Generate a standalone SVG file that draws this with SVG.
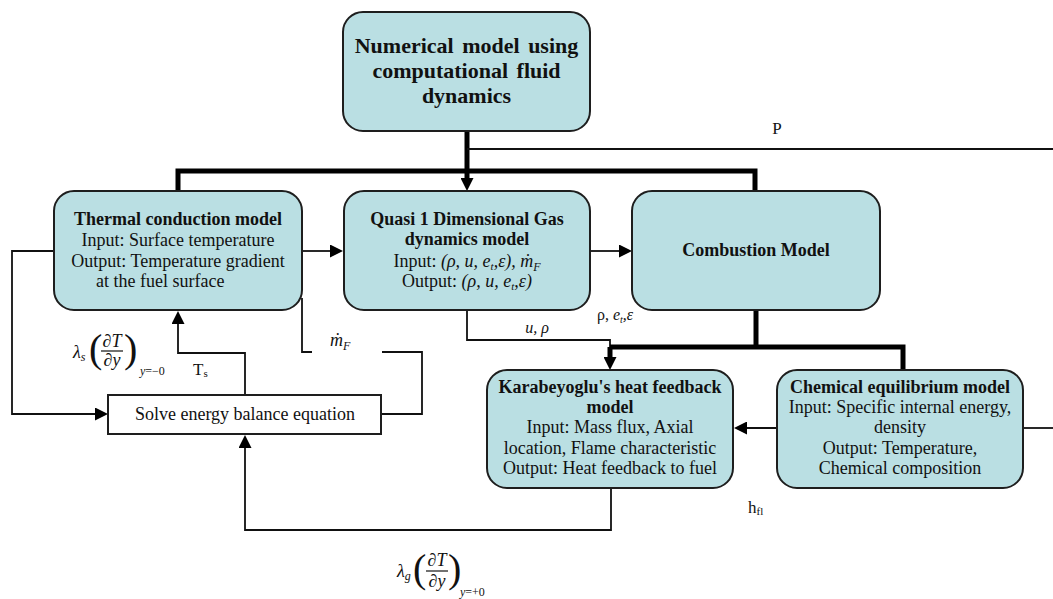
<svg xmlns="http://www.w3.org/2000/svg" width="1053" height="599" viewBox="0 0 1053 599">
<defs>
<style>
.box{fill:#badfe3;stroke:#1e1e1e;stroke-width:2}
.sbox{fill:#fff;stroke:#1e1e1e;stroke-width:2}
.t{font-family:"Liberation Serif","Times New Roman","DejaVu Serif",serif;font-size:18px;fill:#111;text-anchor:middle}
.s{text-anchor:start}
.b{font-weight:bold}
.i{font-style:italic}
.thin{fill:none;stroke:#111;stroke-width:1.8}
.thick{fill:none;stroke:#000;stroke-width:5}
.m{font-family:"Liberation Serif","DejaVu Serif",serif;font-size:18px;fill:#111;font-style:italic}
.sub{font-family:"Liberation Serif","DejaVu Serif",serif;font-size:12px;fill:#111}
.par{font-family:"Liberation Serif","DejaVu Serif",serif;font-size:40px;fill:#111}
.bar{stroke:#111;stroke-width:1.2}
</style>
<marker id="ah" markerUnits="userSpaceOnUse" markerWidth="14" markerHeight="13" refX="3" refY="6.5" orient="auto">
<path d="M0,0 L13,6.5 L0,13 z" fill="#000"/>
</marker>
</defs>
<rect width="1053" height="599" fill="#fff"/>

<g id="connectors">
<path class="thick" d="M467,131 V181" marker-end="url(#ah)"/>
<path class="thick" d="M178,191 V171 H755 V191"/>
<path class="thin" d="M467,149 H1053"/>
<path class="thin" d="M302,251 H333" marker-end="url(#ah)"/>
<path class="thin" d="M590,251 H622" marker-end="url(#ah)"/>
<path class="thin" d="M467,310 V340 H610 V347"/>
<path class="thick" d="M756,310 V347"/>
<path class="thick" d="M610,347 H903 V370"/>
<path class="thick" d="M610,347 V360" marker-end="url(#ah)"/>
<path class="thin" d="M777,428 H744" marker-end="url(#ah)"/>
<path class="thin" d="M1023,428 H1053"/>
<path class="thin" d="M54,251 H12 V414 H98" marker-end="url(#ah)"/>
<path class="thin" d="M245,395 V353 H178 V321" marker-end="url(#ah)"/>
<path class="thin" d="M302,298 V352 H312"/>
<path class="thin" d="M382,352 H422 V414 H381"/>
<path class="thin" d="M611,488 V530 H245 V445" marker-end="url(#ah)"/>
</g>

<g id="cfd">
<rect class="box" x="343" y="12" width="247" height="119" rx="20"/>
<text class="t b" x="466.5" y="53" style="font-size:22px;word-spacing:3px">Numerical model using</text>
<text class="t b" x="466.5" y="78" style="font-size:22px;word-spacing:3px">computational fluid</text>
<text class="t b" x="466.5" y="103" style="font-size:22px">dynamics</text>
</g>

<g id="thermal">
<rect class="box" x="54" y="191" width="248" height="119" rx="20"/>
<text class="t b" x="178" y="225">Thermal conduction model</text>
<text class="t" x="178" y="246">Input: Surface temperature</text>
<text class="t" x="178" y="267">Output: Temperature gradient</text>
<text class="t s" x="96" y="287">at the fuel surface</text>
</g>

<g id="quasi">
<rect class="box" x="344" y="191" width="246" height="119" rx="20"/>
<text class="t b" x="467" y="225">Quasi 1 Dimensional Gas</text>
<text class="t b" x="467" y="245">dynamics model</text>
<text class="t" x="467" y="267">Input: <tspan class="i">(ρ, u, e</tspan><tspan class="i" font-size="11" dy="3">t</tspan><tspan class="i" dy="-3">,ε), ṁ</tspan><tspan class="i" font-size="12" dy="4">F</tspan></text>
<text class="t" x="467" y="287">Output: <tspan class="i">(ρ, u, e</tspan><tspan class="i" font-size="11" dy="3">t</tspan><tspan class="i" dy="-3">,ε)</tspan></text>
</g>

<g id="combustion">
<rect class="box" x="632" y="191" width="248" height="119" rx="20"/>
<text class="t b" x="756" y="256">Combustion Model</text>
</g>

<g id="karabeyoglu">
<rect class="box" x="487" y="370" width="246" height="118" rx="20"/>
<text class="t b" x="610" y="393">Karabeyoglu's heat feedback</text>
<text class="t b" x="610" y="413">model</text>
<text class="t" x="610" y="433">Input: Mass flux, Axial</text>
<text class="t" x="610" y="454">location, Flame characteristic</text>
<text class="t" x="610" y="474">Output: Heat feedback to fuel</text>
</g>

<g id="chemical">
<rect class="box" x="777" y="370" width="246" height="118" rx="20"/>
<text class="t b" x="900" y="393">Chemical equilibrium model</text>
<text class="t" x="900" y="413">Input: Specific internal energy,</text>
<text class="t" x="900" y="433">density</text>
<text class="t" x="900" y="454">Output: Temperature,</text>
<text class="t" x="900" y="474">Chemical composition</text>
</g>

<g id="solve">
<rect class="sbox" x="108" y="395" width="273" height="39"/>
<text class="t" x="245" y="420">Solve energy balance equation</text>
</g>

<g id="labels">
<text class="t" x="777" y="134" style="font-size:17px">P</text>
<text class="t" x="615" y="320" style="font-size:16px">ρ, <tspan class="i">e</tspan><tspan class="i" font-size="10" dy="3">t</tspan><tspan class="i" dy="-3">,ε</tspan></text>
<text class="t i" x="537" y="333" style="font-size:16px">u, ρ</text>
<text class="m" x="330" y="346">ṁ<tspan font-size="12" dy="4">F</tspan></text>
<text class="t s" x="193" y="375" style="font-size:17px">T<tspan font-size="11" dy="2">s</tspan></text>
<text class="t s" x="748" y="513" style="font-size:17px">h<tspan font-size="11" dy="2">fl</tspan></text>

<g id="lambda-s">
<text class="m" x="73" y="358">λ<tspan font-size="12" dy="3">s</tspan></text>
<text class="par" x="89" y="362">(</text>
<text class="m" x="112" y="347" text-anchor="middle">∂T</text>
<line class="bar" x1="101" y1="351" x2="123" y2="351"/>
<text class="m" x="112" y="366" text-anchor="middle">∂y</text>
<text class="par" x="124" y="362">)</text>
<text class="sub" x="140" y="375"><tspan font-style="italic">y</tspan>=−0</text>
</g>

<g id="lambda-g">
<text class="m" x="397" y="577">λ<tspan font-size="12" dy="3">g</tspan></text>
<text class="par" x="413" y="582">(</text>
<text class="m" x="437" y="566" text-anchor="middle">∂T</text>
<line class="bar" x1="426" y1="571" x2="448" y2="571"/>
<text class="m" x="437" y="587" text-anchor="middle">∂y</text>
<text class="par" x="448" y="582">)</text>
<text class="sub" x="460" y="596"><tspan font-style="italic">y</tspan>=+0</text>
</g>
</g>
</svg>
